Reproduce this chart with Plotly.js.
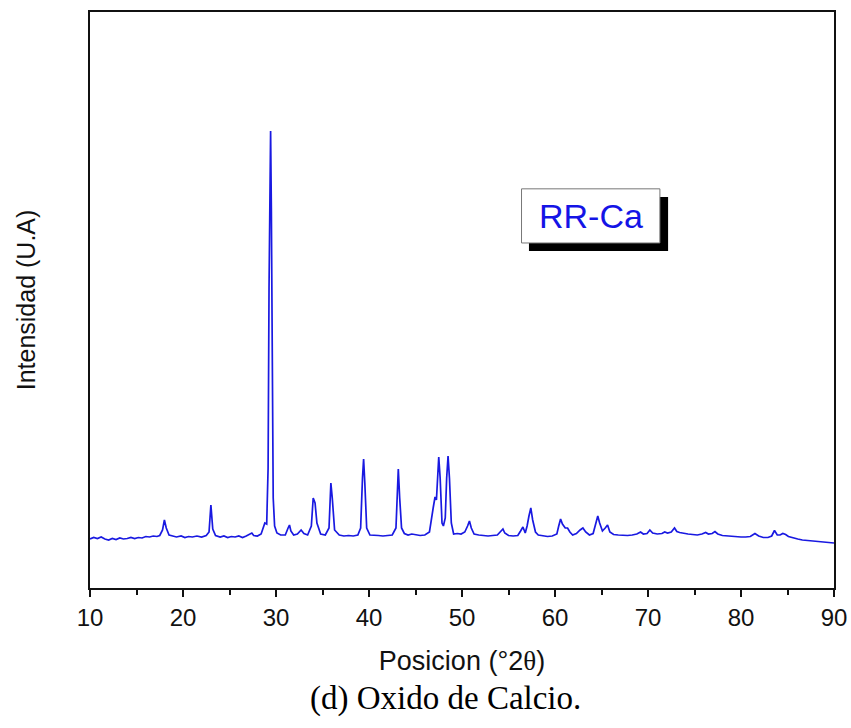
<!DOCTYPE html>
<html>
<head>
<meta charset="utf-8">
<script src="https://cdn.plot.ly/plotly-3.0.1.min.js"></script>
<style>html,body{margin:0;padding:0;background:#fff;}#chart{width:851px;height:728px;}</style>
</head>
<body>
<div id="chart"></div>
<script>
// 2-theta positions (degrees)
const twoTheta = [10.0,10.4,10.8,11.2,11.6,12.0,12.4,12.8,13.2,13.6,14.0,14.4,14.8,15.2,15.6,16.0,16.4,16.8,17.2,17.5,17.8,18.0,18.2,18.5,18.9,19.3,19.8,20.2,20.6,21.0,21.5,22.0,22.5,22.8,23.0,23.2,23.5,24.0,24.4,24.8,25.2,25.6,26.0,26.4,26.8,27.2,27.4,27.6,28.0,28.4,28.6,28.8,29.0,29.15,29.25,29.35,29.42,29.5,29.6,29.7,29.85,30.1,30.5,31.0,31.3,31.45,31.6,31.9,32.3,32.7,33.0,33.4,33.8,34.0,34.2,34.4,34.8,35.3,35.7,35.9,36.05,36.3,36.8,37.3,37.8,38.3,38.8,39.1,39.3,39.42,39.55,39.75,40.1,40.5,41.0,41.5,42.0,42.5,42.9,43.05,43.15,43.3,43.5,43.8,44.2,44.6,45.0,45.5,46.0,46.5,46.9,47.1,47.25,47.4,47.5,47.65,47.85,48.0,48.2,48.35,48.5,48.65,48.85,49.1,49.5,49.9,50.3,50.6,50.8,51.0,51.3,51.8,52.3,52.8,53.3,53.8,54.2,54.4,54.6,55.0,55.5,56.0,56.3,56.55,56.8,57.0,57.2,57.4,57.6,57.9,58.2,58.7,59.2,59.7,60.2,60.4,60.6,60.8,61.1,61.35,61.6,61.9,62.3,62.7,63.0,63.3,63.7,64.1,64.4,64.6,64.8,65.1,65.4,65.65,65.9,66.3,66.8,67.3,67.8,68.3,68.8,69.2,69.5,69.9,70.2,70.5,71.0,71.5,71.8,72.1,72.5,72.85,73.1,73.4,73.8,74.3,74.8,75.3,75.8,76.2,76.5,76.9,77.2,77.5,78.0,78.5,79.0,79.5,80.0,80.5,81.0,81.5,81.9,82.4,82.9,83.3,83.6,83.9,84.2,84.5,84.8,85.1,85.6,86.1,86.6,87.1,87.6,88.1,88.6,89.1,89.6,90.0];
// Intensity (arbitrary units)
const intensity = [490,505,495,510,490,480,495,485,500,490,495,505,495,505,500,515,510,520,515,525,580,680,600,530,520,510,520,505,515,510,520,510,525,560,830,590,525,510,520,505,515,510,520,505,520,540,550,525,520,540,600,650,640,1200,3000,4200,4570,3800,2000,900,620,550,530,530,600,630,570,530,540,580,545,530,620,900,850,650,540,530,600,1050,900,580,530,520,525,520,530,600,1100,1290,1050,600,530,530,525,520,525,530,600,1100,1190,900,600,545,530,540,530,525,530,560,800,910,880,1200,1310,1100,650,620,700,1100,1320,1100,650,540,545,540,560,620,670,600,540,530,525,520,525,530,570,590,550,525,520,525,570,610,550,620,720,800,680,560,530,520,515,520,540,620,690,640,600,600,560,530,545,580,600,560,530,545,650,720,650,570,600,630,560,535,530,525,525,530,540,560,540,545,580,550,540,545,560,550,560,600,565,555,545,540,535,530,540,555,540,545,565,540,525,520,515,515,510,510,515,545,520,505,505,520,575,530,530,545,535,515,500,490,480,475,470,465,460,455,450,450];
const xTicks = [10,20,30,40,50,60,70,80,90];
const seriesName = "RR-Ca";
const xTitle = 'Posicion (°2<span style="font-family:\'Liberation Serif\', serif">θ</span>)';
const yTitle = "Intensidad (U.A)";
const caption = "(d) Oxido de Calcio.";

const sans = "Arial, 'Liberation Sans', sans-serif";
const serif = "'Times New Roman', 'Liberation Serif', serif";

const trace = {
  x: twoTheta, y: intensity, type: 'scatter', mode: 'lines',
  name: seriesName,
  line: {color: 'rgb(25,25,225)', width: 1.7},
  showlegend: false, hoverinfo: 'x+y'
};

const layout = {
  width: 851, height: 728,
  margin: {l: 90, r: 17, t: 12, b: 140},
  paper_bgcolor: '#fff', plot_bgcolor: '#fff',
  showlegend: false,
  xaxis: {
    range: [10, 90], tickvals: xTicks, ticktext: xTicks.map(String),
    ticks: 'outside', ticklen: 7, tickwidth: 2, tickcolor: '#111',
    minor: {dtick: 5, ticks: 'outside', ticklen: 5, tickwidth: 2, tickcolor: '#111', showgrid: false},
    showline: true, linecolor: '#111', linewidth: 2, mirror: true,
    showgrid: false, zeroline: false,
    tickfont: {family: sans, size: 24, color: '#111'},
    title: {text: xTitle, font: {family: sans, size: 27, color: '#111'}, standoff: 21}
  },
  yaxis: {
    range: [0, 5760], showticklabels: false, ticks: '',
    showline: true, linecolor: '#111', linewidth: 2, mirror: true,
    showgrid: false, zeroline: false,
    title: {text: yTitle, font: {family: sans, size: 25, color: '#111'}, standoff: 45}
  },
  shapes: [
    {type: 'rect', xref: 'paper', yref: 'paper', x0: 0.590, x1: 0.777, y0: 0.585, y1: 0.679,
     fillcolor: '#000', line: {width: 0}, layer: 'above'},
    {type: 'rect', xref: 'paper', yref: 'paper', x0: 0.580, x1: 0.766, y0: 0.599, y1: 0.693,
     fillcolor: '#fff', line: {color: '#777', width: 1}, layer: 'above'}
  ],
  annotations: [
    {text: seriesName, xref: 'paper', yref: 'paper', x: 0.673, y: 0.646,
     xanchor: 'center', yanchor: 'middle', showarrow: false,
     font: {family: sans, size: 34, color: 'rgb(20,20,230)'}},
    {text: caption, xref: 'paper', yref: 'paper', x: (445-90)/744, y: -0.191,
     xanchor: 'center', yanchor: 'middle', showarrow: false,
     font: {family: serif, size: 33, color: '#000'}}
  ]
};

Plotly.newPlot('chart', [trace], layout, {displayModeBar: false, staticPlot: true});
</script>
</body>
</html>
